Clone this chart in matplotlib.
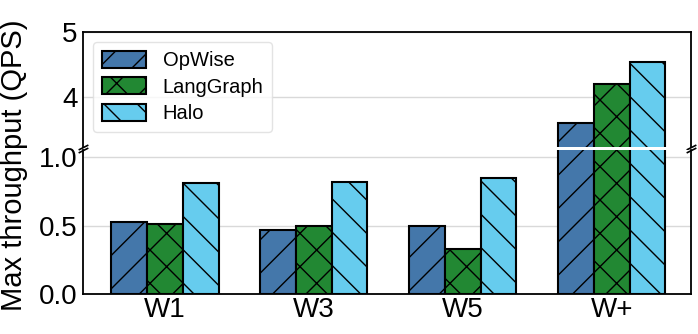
import numpy as np
import matplotlib
matplotlib.use("Agg")
import matplotlib.pyplot as plt

plt.rcParams['font.family'] = ['Liberation Sans', 'DejaVu Sans']
plt.rcParams['hatch.linewidth'] = 1.0

workloads = ['W1', 'W3', 'W5', 'W+']
systems = ['OpWise', 'LangGraph', 'Halo']
opwise = [0.53, 0.47, 0.50, 3.60]
langgraph = [0.51, 0.50, 0.33, 4.20]
halo = [0.81, 0.82, 0.85, 4.54]

colors = ['#4477AA', '#228833', '#66CCEE']
hatches = ['/', 'x', '\\']

W, H = 698, 334
fig = plt.figure(figsize=(W / 100, H / 100), dpi=100)
left, right = 83 / W, 690.7 / W
ax_top = fig.add_axes([left, 1 - 147.5 / H, right - left, (147.5 - 32) / H])
ax_bot = fig.add_axes([left, 1 - 294 / H, right - left, (294 - 149.5) / H])

x = np.arange(len(workloads))
width = 0.24
series = [opwise, langgraph, halo]
for ax in (ax_top, ax_bot):
    for i, (vals, name) in enumerate(zip(series, systems)):
        ax.bar(x + (i - 1) * width, vals, width, color=colors[i], hatch=hatches[i],
               edgecolor='black', linewidth=1.5, label=name, zorder=3)
    ax.set_xlim(-0.55, 3.53)
    ax.grid(axis='y', color='#d9d9d9', linewidth=1, zorder=0)
    ax.tick_params(length=0, labelsize=20, pad=4)
    for s in ax.spines.values():
        s.set_color('black')
        s.set_linewidth(1.3)

ax_top.set_ylim(3.22, 5)
ax_top.set_yticks([4, 5])
ax_top.spines['bottom'].set_visible(False)
ax_top.set_xticks([])

ax_bot.set_ylim(0, 1.057)
ax_bot.set_yticks([0.0, 0.5, 1.0])
ax_bot.set_yticklabels(['0.0', '0.5', '1.0'])
ax_bot.spines['top'].set_visible(False)
ax_bot.set_xticks(x)
ax_bot.set_xticklabels(workloads)
ax_bot.tick_params(axis='x', pad=2)

# break marks
kw = dict(marker=[(-1, -0.5), (1, 0.5)], markersize=7, linestyle='none',
          color='black', mec='black', mew=1.2, clip_on=False)
ax_top.plot([0, 1], [0, 0], transform=ax_top.transAxes, **kw)
ax_bot.plot([0, 1], [1, 1], transform=ax_bot.transAxes, **kw)

leg = ax_top.legend(loc='upper left', fontsize=14.5, frameon=True, fancybox=True,
                    handlelength=2.2, handleheight=0.9, borderpad=0.45,
                    labelspacing=0.35, bbox_to_anchor=(0.0, 1.0))
leg.get_frame().set_edgecolor('#dddddd')
leg.get_frame().set_linewidth(1)

fig.text(14 / W, 0.505, 'Max throughput (QPS)', rotation=90, va='center', ha='center',
         fontsize=21)

fig.savefig('out.png', dpi=100)
